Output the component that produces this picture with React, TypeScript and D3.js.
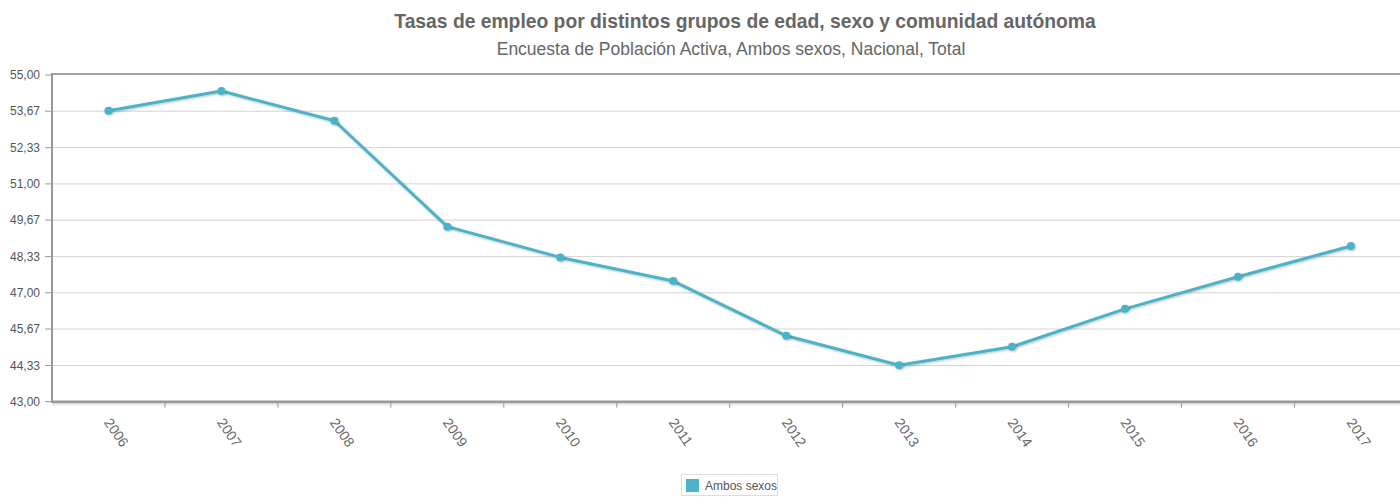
import React from "react";
import * as d3 from "d3";

const years = ["2006","2007","2008","2009","2010","2011","2012","2013","2014","2015","2016","2017"];
const values = [53.69, 54.41, 53.32, 49.43, 48.30, 47.43, 45.42, 44.34, 45.02, 46.41, 47.59, 48.72];
const yTicks = [43.0, 44.33, 45.67, 47.0, 48.33, 49.67, 51.0, 52.33, 53.67, 55.0];
const title = "Tasas de empleo por distintos grupos de edad, sexo y comunidad autónoma";
const subtitle = "Encuesta de Población Activa, Ambos sexos, Nacional, Total";
const seriesName = "Ambos sexos";

const W = 1400, H = 497;
const left = 52, top = 75, bottom = 401.7, right = 52 + 12 * 112.95;
const color = "#4cb3c8";
const font = "'Liberation Sans', Arial, sans-serif";

export default function App() {
  const x = d3.scaleBand<string>().domain(years).range([left, right]);
  const y = d3.scaleLinear().domain([43, 55]).range([bottom, top]);
  const line = d3.line<number>()
    .x((_, i) => (x(years[i]) as number) + x.bandwidth() / 2)
    .y((d) => y(d));
  const fmt = (v: number) => v.toFixed(2).replace(".", ",");

  return (
    <svg width={W} height={H} style={{ position: "absolute", left: 0, top: 0, background: "#fff" }} fontFamily={font}>
      <defs>
        <filter id="sh" x="-50%" y="-50%" width="200%" height="200%">
          <feDropShadow dx="1" dy="1" stdDeviation="0.8" floodColor="#000" floodOpacity="0.25" />
        </filter>
        <linearGradient id="axsh" x1="0" y1="0" x2="0" y2="1">
          <stop offset="0" stopColor="#bbb" stopOpacity="0.7" />
          <stop offset="1" stopColor="#fff" stopOpacity="0" />
        </linearGradient>
      </defs>
      <text x={745} y={28} textAnchor="middle" fontSize={19.3} fontWeight="bold" fill="#666">{title}</text>
      <text x={731} y={55} textAnchor="middle" fontSize={17.5} fill="#666">{subtitle}</text>

      {yTicks.map((t) => (
        <g key={t}>
          {t !== 43 && t !== 55 && (
            <line x1={left} x2={W} y1={y(t)} y2={y(t)} stroke="#d4d4d4" strokeWidth={1} />
          )}
          <line x1={left - 7} x2={left} y1={y(t)} y2={y(t)} stroke="#999" strokeWidth={1} />
          <text x={left - 12} y={y(t)} dy="0.35em" textAnchor="end" fontSize={12} fill="#555">{fmt(t)}</text>
        </g>
      ))}

      <line x1={left} x2={W} y1={top - 1} y2={top - 1} stroke="#a3a3a3" strokeWidth={2} />
      <line x1={left} x2={left} y1={top - 2} y2={bottom + 1} stroke="#999" strokeWidth={2} />
      <rect x={left} y={bottom + 1} width={W - left} height={5} fill="url(#axsh)" />
      <line x1={left} x2={W} y1={bottom} y2={bottom} stroke="#999" strokeWidth={2.5} />
      {years.slice(1).map((yr) => (
        <line key={yr} x1={x(yr) as number} x2={x(yr) as number} y1={bottom} y2={bottom + 6} stroke="#999" strokeWidth={1} />
      ))}
      {years.map((yr) => {
        const cx = (x(yr) as number) + x.bandwidth() / 2 - 1;
        const cy = bottom + 18;
        return (
          <text key={yr} x={cx} y={cy} transform={`rotate(55, ${cx}, ${cy})`} fontSize={14} fill="#666" dy="0.35em">{yr}</text>
        );
      })}

      <path d={line(values) || ""} fill="none" stroke={color} strokeWidth={3} strokeLinejoin="round" filter="url(#sh)" />
      {values.map((v, i) => (
        <circle key={years[i]} cx={(x(years[i]) as number) + x.bandwidth() / 2} cy={y(v)} r={4} fill={color} filter="url(#sh)" />
      ))}

      <g>
        <rect x={681.5} y={474.5} width={96} height={21} fill="#fff" stroke="#ddd" strokeWidth={1} />
        <rect x={686} y={479} width={13} height={13} fill={color} />
        <text x={705} y={486} dy="0.35em" fontSize={12} fill="#555">{seriesName}</text>
      </g>
    </svg>
  );
}
